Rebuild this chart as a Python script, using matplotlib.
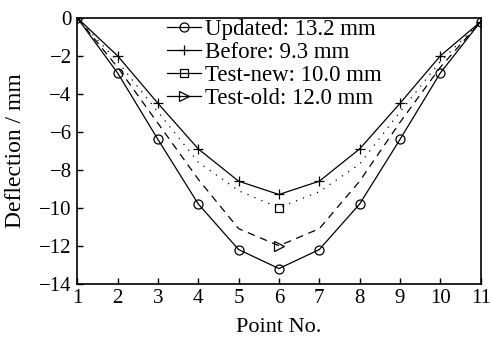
import matplotlib
matplotlib.use("Agg")
import matplotlib.pyplot as plt
from matplotlib.lines import Line2D

plt.rcParams['font.family'] = ['Liberation Serif', 'DejaVu Serif']

points = [1, 2, 3, 4, 5, 6, 7, 8, 9, 10, 11]
updated = [0, -2.9, -6.4, -9.8, -12.2, -13.2, -12.2, -9.8, -6.4, -2.9, -0.2]
before = [0, -2.0, -4.5, -6.9, -8.6, -9.3, -8.6, -6.9, -4.5, -2.0, -0.2]
test_new = [0, -2.3, -4.95, -7.6, -9.1, -10.0, -9.15, -7.7, -4.95, -2.3, -0.2]
test_old = [0, -2.6, -5.55, -8.5, -11.1, -12.0, -11.1, -8.6, -5.5, -2.6, -0.2]
labels = ["Updated: 13.2 mm", "Before: 9.3 mm", "Test-new: 10.0 mm", "Test-old: 12.0 mm"]
xticks = [1, 2, 3, 4, 5, 6, 7, 8, 9, 10, 11]
yticks = [0, -2, -4, -6, -8, -10, -12, -14]

fig = plt.figure(figsize=(4.92, 3.37), dpi=100)
ax = fig.add_axes([0.157, 0.158, 0.82, 0.789])

lw = 0.9
ms = 6.5
ax.plot(points, updated, color='black', lw=lw, marker='o', ms=ms,
        mfc='none', mec='black', mew=0.9)
ax.plot(points, before, color='black', lw=lw, marker='+', ms=7.5,
        mec='black', mew=0.9)
ax.plot(points, test_new, color='black', lw=lw, linestyle=(0, (1, 5)),
        marker='s', ms=5.5, mfc='none', mec='black', mew=0.9, markevery=[5])
ax.plot(points, test_old, color='black', lw=lw, linestyle=(0, (6, 4.5)),
        marker='>', ms=ms, mfc='none', mec='black', mew=0.9, markevery=[5])

handles = [
    Line2D([], [], color='black', lw=lw, marker='o', ms=ms, mfc='none', mew=0.9),
    Line2D([], [], color='black', lw=lw, marker='+', ms=7.5, mew=0.9),
    Line2D([], [], color='black', lw=lw, marker='s', ms=5.5, mfc='none', mew=0.9),
    Line2D([], [], color='black', lw=lw, marker='>', ms=ms, mfc='none', mew=0.9),
]
ax.legend(handles, labels, loc='upper left', bbox_to_anchor=(0.222, 0.995),
          frameon=False, fontsize=16.5, handlelength=1.5, handletextpad=0.15,
          labelspacing=0.08, borderaxespad=0, borderpad=0)

ax.set_xlim(1, 11)
ax.set_ylim(-14, 0)
ax.set_xticks(xticks)
ax.set_yticks(yticks)
ax.set_yticklabels([f"\u2212{abs(v)}" if v < 0 else str(v) for v in yticks])
ax.tick_params(direction='in', length=4, width=1, labelsize=15, pad=4,
               top=False, right=False)
for s in ax.spines.values():
    s.set_linewidth(1.2)
ax.set_xlabel("Point No.", fontsize=16)
ax.set_ylabel("Deflection / mm", fontsize=17)
ax.xaxis.set_label_coords(0.5, -0.128)
ax.yaxis.set_label_coords(-0.128, 0.5)

fig.savefig("out.png", dpi=100)
